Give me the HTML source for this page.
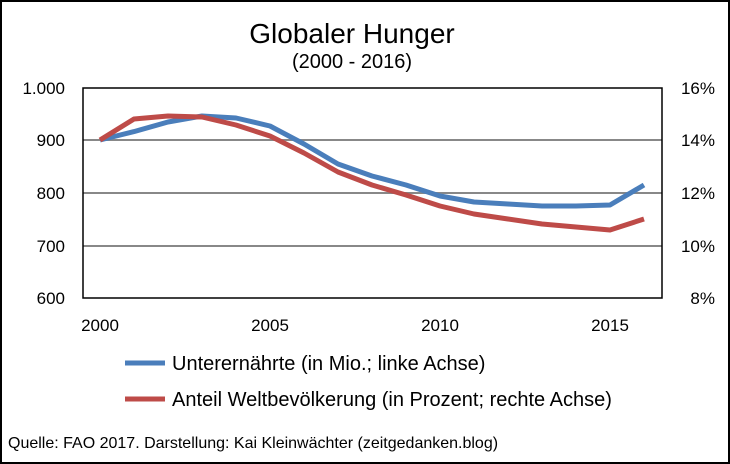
<!DOCTYPE html>
<html><head><style>
body{margin:0;background:#fff;}
svg{display:block;font-family:"Liberation Sans",sans-serif;}
</style></head><body>
<svg width="730" height="464" viewBox="0 0 730 464">
<rect x="1" y="1" width="728" height="462" fill="#fff" stroke="#000" stroke-width="2"/>
<text x="352" y="43" font-size="28" text-anchor="middle">Globaler Hunger</text>
<text x="352" y="68" font-size="20" text-anchor="middle">(2000 - 2016)</text>
<g stroke="#888" stroke-width="2">
<line x1="83" y1="140" x2="662" y2="140"/>
<line x1="83" y1="193" x2="662" y2="193"/>
<line x1="83" y1="246" x2="662" y2="246"/>
</g>
<rect x="83" y="88" width="579" height="210" fill="none" stroke="#000" stroke-width="1.5"/>
<g font-size="17" text-anchor="end">
<text x="65" y="94">1.000</text>
<text x="65" y="146">900</text>
<text x="65" y="199">800</text>
<text x="65" y="252">700</text>
<text x="65" y="304">600</text>
</g>
<g font-size="17" text-anchor="end">
<text x="715" y="94">16%</text>
<text x="715" y="146">14%</text>
<text x="715" y="199">12%</text>
<text x="715" y="252">10%</text>
<text x="715" y="304">8%</text>
</g>
<g font-size="17" text-anchor="middle">
<text x="100" y="331">2000</text>
<text x="270" y="331">2005</text>
<text x="440" y="331">2010</text>
<text x="610" y="331">2015</text>
</g>
<polyline fill="none" stroke="#4a7ebb" stroke-width="5" stroke-linejoin="round" points="100,140 134,131.6 168,122 202,116 236,118 270,126 304,144 338,164 372,176 406,185 440,196 474,202 508,204 542,206 576,206 610,205 644,185"/>
<polyline fill="none" stroke="#be4b48" stroke-width="5" stroke-linejoin="round" points="100,140 134,119 168,116 202,117 236,125 270,136 304,153 338,172 372,185 406,195 440,206 474,214 508,219 542,224 576,227 610,230 644,219"/>
<line x1="125" y1="363" x2="165" y2="363" stroke="#4a7ebb" stroke-width="5"/>
<text x="172" y="370" font-size="20">Unterernährte (in Mio.; linke Achse)</text>
<line x1="125" y1="399" x2="165" y2="399" stroke="#be4b48" stroke-width="5"/>
<text x="172" y="406" font-size="20">Anteil Weltbevölkerung (in Prozent; rechte Achse)</text>
<text x="8" y="448" font-size="16">Quelle: FAO 2017. Darstellung: Kai Kleinwächter (zeitgedanken.blog)</text>
</svg>
</body></html>
